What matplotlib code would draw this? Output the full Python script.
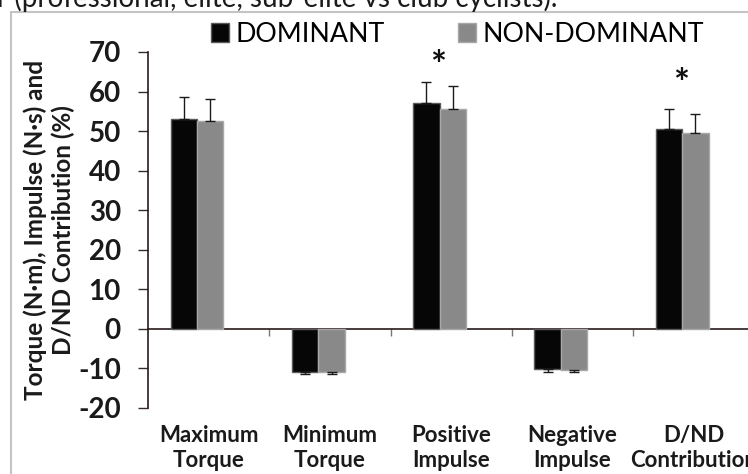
import numpy as np
import matplotlib
matplotlib.use('Agg')
import matplotlib.pyplot as plt
from matplotlib.patches import Rectangle

plt.rcParams['font.family'] = ['Lato', 'DejaVu Sans']

# data
categories = ['Maximum\nTorque', 'Minimum\nTorque', 'Positive\nImpulse', 'Negative\nImpulse', 'D/ND\nContribution']
dominant = [53.0, -10.9, 57.0, -10.1, 50.6]
dominant_err = [5.5, 0.6, 5.4, 0.75, 5.0]
non_dominant = [52.5, -10.9, 55.7, -10.45, 49.4]
non_dominant_err = [5.5, 0.6, 5.7, 0.4, 5.0]
star_idx = [2, 4]
star_y = [66.3, 61.7]
yticks = [-20, -10, 0, 10, 20, 30, 40, 50, 60, 70]

W, H = 748, 474
fig = plt.figure(figsize=(W / 100, H / 100), dpi=100)
ax = fig.add_axes([148 / W, 66 / H, 606.5 / W, 356 / H])

x = np.arange(len(categories))
bw = 0.218
off = -0.096

def one_sided(vals, errs):
    lo = [e if v < 0 else 0 for v, e in zip(vals, errs)]
    hi = [e if v >= 0 else 0 for v, e in zip(vals, errs)]
    return [lo, hi]

ekw = dict(ecolor='#1a1a1a', elinewidth=1.0, capsize=3.5, capthick=1.0)
ax.bar(x + off - bw / 2, dominant, bw, color='#060606', edgecolor='#5a5a5a', linewidth=1.0,
       yerr=one_sided(dominant, dominant_err), error_kw=ekw, label='DOMINANT', zorder=3)
ax.bar(x + off + bw / 2, non_dominant, bw, color='#898989', edgecolor='#a8a8a8', linewidth=1.0,
       yerr=one_sided(non_dominant, non_dominant_err), error_kw=ekw, label='NON-DOMINANT', zorder=3)

# significance stars
for i, sy in zip(star_idx, star_y):
    ax.text(x[i] + off - 0.01, sy, '*', ha='center', va='center', fontsize=27,
            fontweight='bold', color='#111111')

ax.set_xlim(-0.5, len(categories) - 0.5)
ax.set_ylim(-20, 70)
ax.set_yticks(yticks)
ax.set_yticklabels([str(t) for t in yticks], fontsize=20, fontweight='bold', color='#1a1a1a')
ax.tick_params(axis='y', direction='out', length=7.5, width=1, color='#3a2a2a', pad=12)

# x axis drawn at zero, category boundaries as ticks
ax.spines['bottom'].set_position(('data', 0))
ax.spines['top'].set_visible(False)
ax.spines['right'].set_visible(False)
ax.spines['left'].set_color('#2a1a1a')
ax.spines['bottom'].set_color('#2a1a1a')
ax.spines['left'].set_linewidth(1.2)
ax.spines['bottom'].set_linewidth(1.2)
ax.set_xticks(np.arange(0.5, len(categories) - 0.5, 1.0))
ax.set_xticklabels([])
ax.tick_params(axis='x', direction='out', length=5, width=1, color='#777777')

for i, c in enumerate(categories):
    ax.text(x[i], -24.2, c, ha='center', va='top', fontsize=16, fontweight='bold',
            color='#1a1a1a', linespacing=1.25)

ax.set_ylabel('Torque (N·m), Impulse (N·s) and\nD/ND Contribution (%)', fontsize=17.5,
              fontweight='bold', color='#1a1a1a', linespacing=1.25)
ax.yaxis.set_label_coords(-0.12, 0.5)

ax.legend(loc='center left', bbox_to_anchor=(0.104, 1.05), ncol=2, frameon=False,
          fontsize=19.3, handlelength=0.68, handleheight=0.68, handletextpad=0.22,
          columnspacing=2.75, borderaxespad=0, borderpad=0)

# outer frame and clipped caption at the top
fig.patches.append(Rectangle((10.5 / W, -0.1), 1.0, (H - 12) / H + 0.1, transform=fig.transFigure,
                             fill=False, edgecolor='#c4c4c4', linewidth=1.5))
fig.text(-0.004, 1 - 7 / H, 'r (professional, elite, sub-elite vs club cyclists).', ha='left',
         va='baseline', fontsize=20, color='#1a1a1a')

fig.savefig('out.png', dpi=100)
